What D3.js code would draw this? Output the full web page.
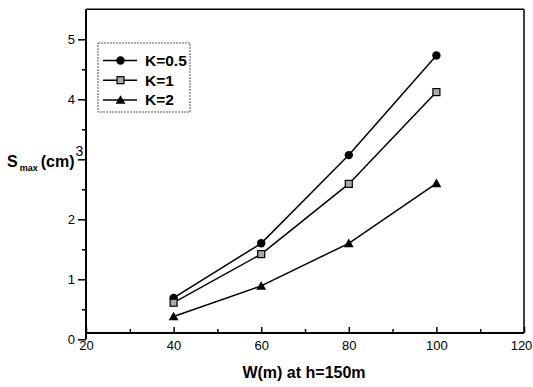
<!DOCTYPE html>
<html>
<head>
<meta charset="utf-8">
<script src="https://cdn.jsdelivr.net/npm/d3@7"></script>
<style>
  html, body { margin: 0; padding: 0; background: #fff; }
  svg { display: block; font-family: Arial, "Liberation Sans", sans-serif; }
</style>
</head>
<body>
<svg id="chart" width="533" height="387"></svg>
<script>
// Plate width W (m) at h = 150 m
const widths = [40, 60, 80, 100];
// Maximum settlement for each K ratio
const seriesNames = ["K=0.5", "K=1", "K=2"];
const sK05 = [0.69, 1.60, 3.07, 4.73];
const sK1  = [0.61, 1.42, 2.59, 4.12];
const sK2  = [0.38, 0.89, 1.60, 2.60];
const xTicks = [20, 40, 60, 80, 100, 120];
const yTicks = [0, 1, 2, 3, 4, 5];

const series = [
  { name: seriesNames[0], values: sK05, symbol: "circle" },
  { name: seriesNames[1], values: sK1,  symbol: "square" },
  { name: seriesNames[2], values: sK2,  symbol: "triangle" }
];

const svg = d3.select("#chart");
const x = d3.scaleLinear().domain([20, 120]).range([86, 524]);
const y = d3.scaleLinear().domain([0, 5.5]).range([339.3, 9.3]);
const frameBottom = 333;

// frame
svg.append("line").attr("x1", x(20)).attr("x2", x(120)).attr("y1", y(5.5)).attr("y2", y(5.5))
  .attr("stroke", "#000").attr("stroke-width", 1.5);
svg.append("line").attr("x1", x(120)).attr("x2", x(120)).attr("y1", y(5.5)).attr("y2", frameBottom)
  .attr("stroke", "#000").attr("stroke-width", 1.5);
svg.append("line").attr("x1", x(20)).attr("x2", x(120)).attr("y1", frameBottom).attr("y2", frameBottom)
  .attr("stroke", "#000").attr("stroke-width", 2);
svg.append("line").attr("x1", x(20)).attr("x2", x(20)).attr("y1", y(5.5)).attr("y2", y(0))
  .attr("stroke", "#000").attr("stroke-width", 2);

// y axis: outward ticks; the "3" sits in the title as its exponent
const yAxis = d3.axisLeft(y).tickValues(yTicks).tickSize(8).tickPadding(3)
  .tickFormat(d => d === 3 ? "" : d3.format("d")(d));
const gy = svg.append("g").attr("transform", `translate(${x(20)},0)`).call(yAxis);
gy.select(".domain").remove();
gy.selectAll(".tick line").attr("stroke-width", 1.5);
gy.selectAll("text").attr("font-size", 13).attr("fill", "#000");
svg.append("g").attr("transform", `translate(${x(20)},0)`)
  .call(d3.axisLeft(y).tickValues(d3.range(0.5, 5.5, 1)).tickSize(4).tickFormat(""))
  .call(g => g.select(".domain").remove())
  .selectAll(".tick line").attr("stroke-width", 1.5);

// x axis: inward ticks
const xAxis = d3.axisBottom(x).tickValues(xTicks).tickSizeInner(-6).tickSizeOuter(0).tickPadding(0).tickFormat(d3.format("d"));
const gx = svg.append("g").attr("transform", `translate(0,${frameBottom})`).call(xAxis);
gx.select(".domain").remove();
gx.selectAll(".tick line").attr("stroke-width", 1.5);
gx.selectAll("text").attr("font-size", 13).attr("fill", "#000").attr("y", 8)
  .attr("dx", d => d === 120 ? -3 : 0);
svg.append("g").attr("transform", `translate(0,${frameBottom})`)
  .call(d3.axisBottom(x).tickValues(d3.range(30, 120, 20)).tickSizeInner(-4).tickSizeOuter(0).tickFormat(""))
  .call(g => g.select(".domain").remove())
  .selectAll(".tick line").attr("stroke-width", 1.5);

// axis titles
svg.append("text").attr("x", 304).attr("y", 378).attr("text-anchor", "middle")
  .attr("font-size", 16).attr("font-weight", "bold").text("W(m) at h=150m");

const yl = svg.append("text").attr("x", 7).attr("y", 167).attr("font-weight", "bold").attr("font-size", 16);
yl.append("tspan").text("S");
yl.append("tspan").attr("font-size", 9).attr("dy", 4).attr("dx", 2).text("max");
yl.append("tspan").attr("dy", -4).attr("dx", 3).text("(cm)");
yl.append("tspan").attr("font-size", 14).attr("font-weight", "normal").attr("dy", -11).attr("dx", 1).text("3");

// symbol drawing
function drawSymbol(g, kind, cx, cy) {
  if (kind === "circle") {
    g.append("circle").attr("cx", cx).attr("cy", cy).attr("r", 4.2).attr("fill", "#000");
  } else if (kind === "square") {
    g.append("rect").attr("x", cx - 3.5).attr("y", cy - 3.5).attr("width", 7).attr("height", 7)
      .attr("fill", "#aaa").attr("stroke", "#000").attr("stroke-width", 1.2);
  } else {
    g.append("path").attr("d", d3.symbol(d3.symbolTriangle, 42)()).attr("transform", `translate(${cx},${cy + 1})`)
      .attr("fill", "#000");
  }
}

const line = d3.line().x((d, i) => x(widths[i])).y(d => y(d));
const plot = svg.append("g");
series.forEach(s => {
  plot.append("path").datum(s.values).attr("d", line).attr("fill", "none")
    .attr("stroke", "#000").attr("stroke-width", 1.5);
  s.values.forEach((v, i) => drawSymbol(plot, s.symbol, x(widths[i]), y(v)));
});

// legend
const lg = svg.append("g");
lg.append("rect").attr("x", 98).attr("y", 43).attr("width", 92).attr("height", 69)
  .attr("fill", "#fff").attr("stroke", "#555").attr("stroke-width", 1).attr("stroke-dasharray", "2,1");
series.forEach((s, i) => {
  const cy = 60.5 + i * 19.7;
  lg.append("line").attr("x1", 103).attr("x2", 137).attr("y1", cy).attr("y2", cy)
    .attr("stroke", "#000").attr("stroke-width", 1.5);
  drawSymbol(lg, s.symbol, 120.5, cy);
  lg.append("text").attr("x", 145).attr("y", cy + 5.5).attr("font-size", 15.5).attr("font-weight", "bold").text(s.name);
});
</script>
</body>
</html>
